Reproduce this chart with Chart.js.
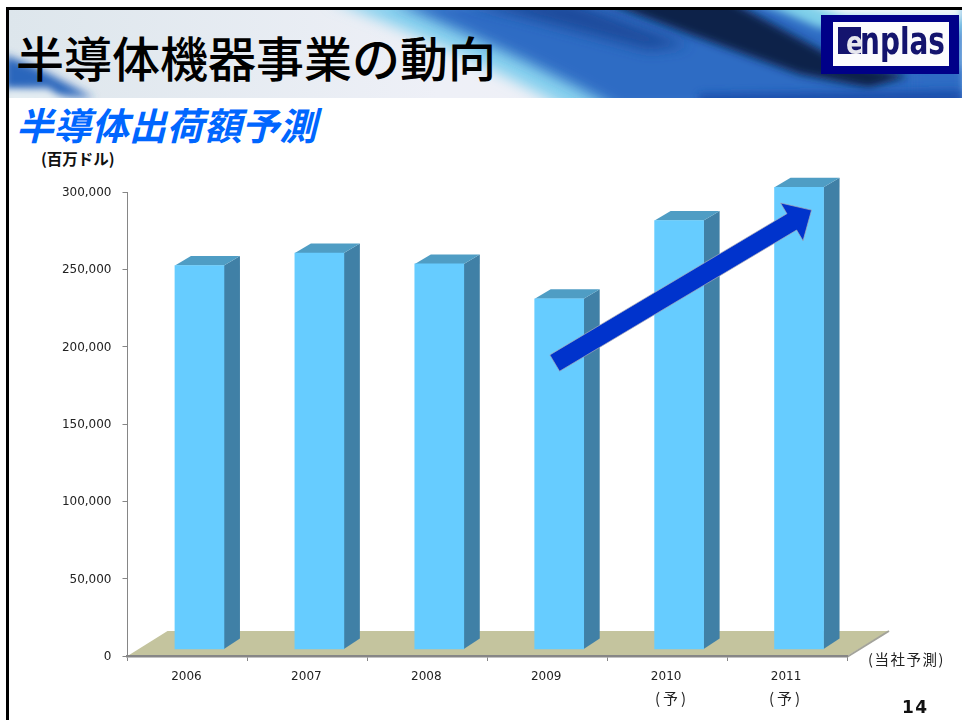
<!DOCTYPE html>
<html lang="ja">
<head>
<meta charset="utf-8">
<title>半導体出荷額予測</title>
<script src="https://cdn.jsdelivr.net/npm/chart.js@4"></script>
<style>
  html, body { margin: 0; padding: 0; background: #fff; }
  body { position: relative; width: 962px; height: 720px; overflow: hidden; font-family: "Noto Sans CJK JP", sans-serif; }
  #chart { position: absolute; left: 0; top: 0; }
  .frame-top { position: absolute; left: 6px; top: 7px; width: 956px; height: 3px; background: #000; }
  .frame-left { position: absolute; left: 6px; top: 7px; width: 3px; height: 713px; background: #000; }
  .banner { position: absolute; left: 9px; top: 10px; }
  .txt { position: absolute; white-space: nowrap; line-height: 1; }
  .title { left: 16px; top: 32px; font-size: 48px; color: #000; font-weight: 500; }
  .subtitle { left: 16px; top: 105px; font-size: 37.6px; color: #0066ff; font-weight: 700; font-style: italic; }
  .unit { left: 41px; top: 151px; font-size: 15.5px; font-weight: 700; color: #111; }
  .note { left: 868px; top: 652px; font-size: 14.5px; color: #222; letter-spacing: 1.5px; }
  .yo { top: 690px; font-size: 15px; color: #222; letter-spacing: 3px; }
  .page { left: 902px; top: 699px; font-size: 17px; font-weight: 700; color: #111; font-family: "DejaVu Sans", sans-serif; letter-spacing: 1.5px; }
  .logo { position: absolute; left: 821px; top: 15px; width: 116px; height: 44px; border: solid #000088; border-width: 7px 10px 8px 12px; background: #fbfbfd; }
  .logo-mark { position: absolute; left: 5px; top: 5px; width: 23px; height: 27px; background: #14146e; }
  .logo-e { left: 13px; top: 5px; font: 700 32px/1 "DejaVu Sans", sans-serif; color: #e6e6ee; transform: scaleX(.8); transform-origin: left top; }
  .logo-text { left: 27px; top: 0; font: 700 38px/1 "DejaVu Sans", sans-serif; color: #14146e; transform: scaleX(.735); transform-origin: left top; }
</style>
</head>
<body>
<svg class="banner" width="953" height="88" viewBox="0 0 953 88">
  <defs>
    <filter id="b6" x="-20%" y="-60%" width="140%" height="220%"><feGaussianBlur stdDeviation="7"></feGaussianBlur></filter>
    <filter id="b3" x="-20%" y="-60%" width="140%" height="220%"><feGaussianBlur stdDeviation="4"></feGaussianBlur></filter>
    <linearGradient id="base" x1="0" y1="0" x2="1" y2="0">
      <stop offset="0" stop-color="#dde6ec"></stop>
      <stop offset=".45" stop-color="#eef0f7"></stop>
      <stop offset="1" stop-color="#f0f0f6"></stop>
    </linearGradient>
    <clipPath id="cut"><rect width="953" height="88"></rect></clipPath>
  </defs>
  <g clip-path="url(#cut)">
    <rect width="953" height="88" fill="url(#base)"></rect>
    <path d="M-5 45 L25 56 L85 88 L30 84 L-5 80 Z" fill="#2a66bc" filter="url(#b3)"></path>
    <path d="M-5 80 L40 78 L60 100 L-5 100 Z" fill="#e4edf2" filter="url(#b3)"></path>
    <path d="M320 -10 L953 -10 L953 100 L560 100 C490 60 400 20 320 -10 Z" fill="#86d0ee" filter="url(#b6)"></path>
    <path d="M380 -10 L953 -10 L953 100 L610 100 C540 60 450 20 380 -10 Z" fill="#2f6cc4" filter="url(#b6)"></path>
    <path d="M450 -10 L560 -10 L680 35 L640 40 Z" fill="#1f4c9c" filter="url(#b6)"></path>
    <path d="M590 -10 L720 -10 L830 50 L900 66 L860 78 L790 64 L680 24 Z" fill="#0e2248" filter="url(#b3)"></path>
    <path d="M745 -10 L953 -10 L953 22 L810 18 Z" fill="#7fd0ea" filter="url(#b3)"></path>
    <path d="M790 -10 L953 -10 L953 10 L835 6 Z" fill="#f0f6fa" filter="url(#b3)"></path>
    <path d="M905 60 L953 58 L953 100 L905 100 Z" fill="#2f6cc4" filter="url(#b3)"></path>
    <path d="M690 84 L953 80 L953 100 L690 100 Z" fill="#1d50ac" filter="url(#b3)"></path>
  </g>
</svg>
<div class="frame-top"></div>
<div class="frame-left"></div>
<div class="logo">
  <div class="logo-mark"></div>
  <span class="txt logo-e">e</span>
  <span class="txt logo-text">nplas</span>
</div>
<div class="txt title">半導体機器事業の動向</div>
<div class="txt subtitle">半導体出荷額予測</div>
<div class="txt unit">(百万ドル)</div>
<canvas id="chart" width="962" height="720"></canvas>
<div class="txt note">(当社予測)</div>
<div class="txt yo" style="left:655px">(予)</div>
<div class="txt yo" style="left:769px">(予)</div>
<div class="txt page">14</div>

<script>
// Data
const years = ['2006', '2007', '2008', '2009', '2010', '2011'];
const shipments = [248000, 256000, 249000, 226500, 277000, 298500];
const yTicks = [0, 50000, 100000, 150000, 200000, 250000, 300000];

// The fake 3D look: bars stand on the front of the floor, a little above the axis
const floorLift = 4500;
const barShift = 12;
const depthX = 16;
const depthY = 9.5;

// Arrow runs from 2009 up to 2011, anchored on the scales
const arrowFrom = { cat: 3, dx: 7.5, value: 189400 };
const arrowTo = { cat: 5, dx: 24.5, value: 288300 };

function fillPoly(ctx, pts, color) {
  ctx.beginPath();
  pts.forEach((p, i) => i ? ctx.lineTo(p[0], p[1]) : ctx.moveTo(p[0], p[1]));
  ctx.closePath();
  ctx.fillStyle = color;
  ctx.fill();
}

const floorPlugin = {
  id: 'floor',
  beforeDraw(chart) {
    const { ctx, scales: { x, y } } = chart;
    const b = y.bottom;
    ctx.save();
    fillPoly(ctx, [[x.left, b], [x.left + 40, b - 25], [x.right + 42, b - 25], [x.right, b]], '#c4c49e');
    ctx.strokeStyle = '#a3a39a';
    ctx.lineWidth = 2;
    ctx.beginPath();
    ctx.moveTo(x.right, b + 1);
    ctx.lineTo(x.right + 42, b - 25);
    ctx.stroke();
    ctx.restore();
  }
};

const depthPlugin = {
  id: 'depth',
  beforeDatasetDraw(chart) {
    const ctx = chart.ctx;
    ctx.save();
    ctx.translate(barShift, 0);
    chart.getDatasetMeta(0).data.forEach(bar => {
      const l = bar.x - bar.width / 2;
      const r = bar.x + bar.width / 2;
      const top = bar.y;
      const base = bar.base;
      // side face
      fillPoly(ctx, [[r, top], [r + depthX, top - depthY], [r + depthX, base - depthY - 1], [r, base]], '#4080a6');
      // top face
      fillPoly(ctx, [[l, top], [l + depthX, top - depthY], [r + depthX, top - depthY], [r, top]], '#4f9dc4');
    });
  },
  afterDatasetDraw(chart) {
    chart.ctx.restore();
  }
};

const arrowPlugin = {
  id: 'arrow',
  afterDatasetsDraw(chart) {
    const { ctx, scales: { x, y } } = chart;
    const x0 = x.getPixelForValue(arrowFrom.cat) + arrowFrom.dx;
    const y0 = y.getPixelForValue(arrowFrom.value);
    const x1 = x.getPixelForValue(arrowTo.cat) + arrowTo.dx;
    const y1 = y.getPixelForValue(arrowTo.value);
    const len = Math.hypot(x1 - x0, y1 - y0);
    const ux = (x1 - x0) / len, uy = (y1 - y0) / len;
    const nx = -uy, ny = ux;
    const shaft = 9.5, head = 22, headLen = 23;
    const at = (along, side) => [x0 + ux * along + nx * side, y0 + uy * along + ny * side];
    ctx.save();
    fillPoly(ctx, [
      at(0, -shaft), at(len - headLen, -shaft), at(len - headLen, -head),
      at(len, 0),
      at(len - headLen, head), at(len - headLen, shaft), at(0, shaft)
    ], '#0033cc');
    ctx.strokeStyle = '#a9a9b8';
    ctx.lineWidth = 0.7;
    ctx.stroke();
    ctx.restore();
  }
};

new Chart(document.getElementById('chart'), {
  type: 'bar',
  data: {
    labels: years,
    datasets: [{
      data: shipments.map(v => [floorLift, v + floorLift]),
      backgroundColor: '#66ccff',
      borderWidth: 0,
      barThickness: 49,
      clip: false
    }]
  },
  options: {
    responsive: false,
    devicePixelRatio: 1,
    animation: false,
    layout: { padding: { left: 0, top: 192, right: 115, bottom: 0 } },
    plugins: { legend: { display: false }, tooltip: { enabled: false } },
    scales: {
      x: {
        afterFit: s => { s.height = 64; },
        grid: { drawOnChartArea: false, color: '#868686', tickLength: 5 },
        border: { color: '#868686', width: 2.5 },
        ticks: { color: '#222', font: { family: 'DejaVu Sans', size: 12 }, padding: 9, maxRotation: 0, labelOffset: -1 }
      },
      y: {
        min: 0,
        max: 300000,
        afterFit: s => { s.width = 127.5; },
        afterBuildTicks: s => { s.ticks = yTicks.map(value => ({ value })); },
        grid: { drawOnChartArea: false, color: '#868686', tickLength: 5 },
        border: { color: '#868686', width: 1 },
        ticks: {
          color: '#222',
          font: { family: 'DejaVu Sans', size: 12 },
          padding: 11,
          labelOffset: 1,
          callback: v => v.toLocaleString('en-US')
        }
      }
    }
  },
  plugins: [floorPlugin, depthPlugin, arrowPlugin]
});
</script>
</body>
</html>
